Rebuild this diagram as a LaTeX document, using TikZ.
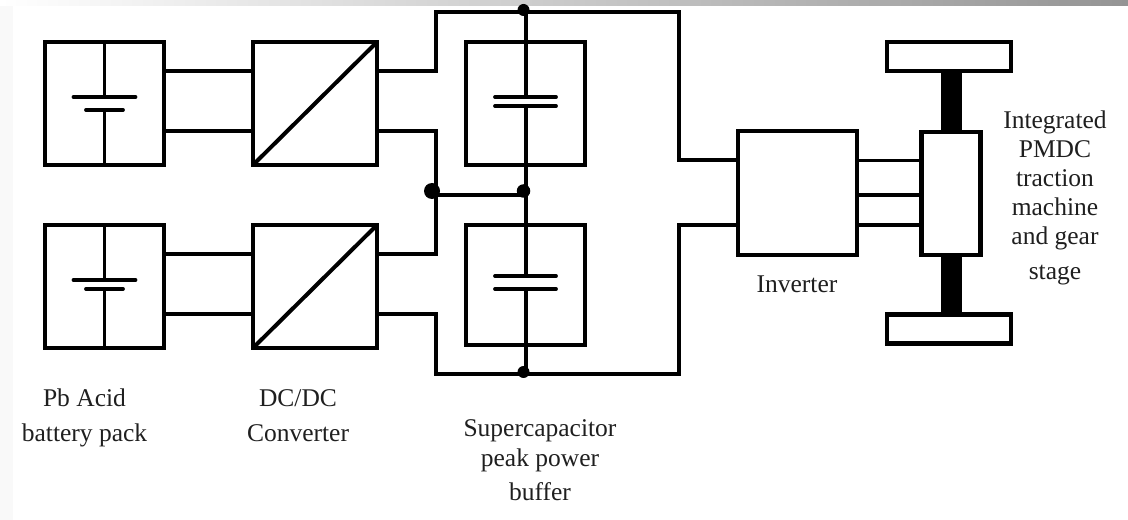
\documentclass[tikz,border=0pt]{standalone}
\usepackage{fontspec}
\setmainfont{Liberation Serif}
\definecolor{bandend}{gray}{0.58}
\definecolor{edgeband}{gray}{0.975}
\tikzset{
  boxed/.style={draw=black,line width=4.6bp,fill=white,inner sep=0pt,outer sep=0pt},
  wire/.style={draw=black,line width=4bp,line cap=butt,line join=miter},
  thinwire/.style={draw=black,line width=3.4bp},
  plate/.style={draw=black,line width=3.8bp,line cap=round},
  junction/.style={circle,fill=black,inner sep=0pt},
  shaft/.style={fill=black,inner sep=0pt},
  caption/.style={font=\fontsize{25.5bp}{30bp}\selectfont,align=center,text=black!88}
}
\newcommand{\bx}[5]{\node[boxed,minimum width=#4 bp,minimum height=#5 bp] (#1) at (#2,#3) {};}
\begin{document}
\begin{tikzpicture}[x=1bp,y=-1bp]
\useasboundingbox (0,0) rectangle (1128,520);
\shade[left color=white,right color=bandend] (0,0) rectangle (1128,6);
\fill[edgeband] (0,6) rectangle (13,520);
\fill[white] (13,6) rectangle (1128,520);
% main bus wires
\coordinate (topL) at (436,12.5);
\coordinate (topR) at (679,12.5);
\coordinate (topM) at (525.5,12.5);
\coordinate (botL) at (436,374);
\coordinate (botR) at (679,374);
\coordinate (botM) at (525.5,374);
\coordinate (midL) at (436,195);
\coordinate (midM) at (525.5,195);
% boxes
\bx{bat1}{104.5}{103.5}{119}{123}
\bx{bat2}{104.5}{286.5}{119}{123}
\bx{conv1}{315}{103.5}{124}{123}
\bx{conv2}{315}{286.5}{124}{123}
\bx{cap1}{525.5}{103.5}{119}{123}
\bx{cap2}{525.5}{285}{119}{120}
\bx{inv}{797.5}{193}{119}{124}
\bx{mach}{951}{193.5}{59}{123}
\bx{whl1}{949}{56.5}{124}{29}
\bx{whl2}{949}{329}{124}{29}
% converter diagonals
\draw[wire] (conv1.south west) -- (conv1.north east);
\draw[wire] (conv2.south west) -- (conv2.north east);
% battery symbols
\draw[wire,line width=3.2bp] (bat1.north) -- (104.5,97) (104.5,110) -- (bat1.south);
\draw[plate] (73.5,97) -- (135.5,97);
\draw[plate] (86,110) -- (123,110);
\draw[wire,line width=3.2bp] (bat2.north) -- (104.5,279) (104.5,289) -- (bat2.south);
\draw[plate] (73.5,280) -- (135.5,280);
\draw[plate] (86,289) -- (123,289);
% capacitor symbols and centre wire
\draw[wire] (topM) -- (525.5,97);
\draw[wire] (525.5,106) -- (525.5,276);
\draw[wire] (525.5,289) -- (botM);
\draw[plate] (495,97) -- (556,97);
\draw[plate] (495,106) -- (556,106);
\draw[plate] (495,276) -- (556,276);
\draw[plate] (495,289) -- (556,289);
% box-to-box wires
\draw[wire] (bat1.east |- 0,71.5) -- (conv1.west |- 0,71.5);
\draw[wire] (bat1.east |- 0,131) -- (conv1.west |- 0,131);
\draw[wire] (bat2.east |- 0,254.5) -- (conv2.west |- 0,254.5);
\draw[wire] (bat2.east |- 0,314) -- (conv2.west |- 0,314);
\draw[wire] (conv1.east |- 0,71.5) -| (topL) -- (topR) |- (inv.west |- 0,160.5);
\draw[wire] (conv1.east |- 0,131) -| (436,254.5) -- (conv2.east |- 0,254.5);
\draw[wire] (conv2.east |- 0,314) -| (botL) -- (botR) |- (inv.west |- 0,225.5);
\draw[wire] (midL) -- (midM);
\draw[thinwire] (inv.east |- 0,160.5) -- (mach.west |- 0,160.5);
\draw[thinwire] (inv.east |- 0,195) -- (mach.west |- 0,195);
\draw[thinwire] (inv.east |- 0,225) -- (mach.west |- 0,225);
% shafts
\node[shaft,minimum width=21bp,minimum height=59bp] (sh1) at (951,102) {};
\node[shaft,minimum width=21bp,minimum height=59bp] (sh2) at (951,285) {};
% junctions
\node[junction,minimum size=16bp] (j1) at (432,191) {};
\node[junction,minimum size=13.5bp] (j2) at (523.5,191) {};
\node[junction,minimum size=12bp] (j3) at (523.5,10) {};
\node[junction,minimum size=12bp] (j4) at (523.5,372) {};
% labels
\node[caption] (l1) at (84.5,418) {Pb Acid\\[5bp]battery pack};
\node[caption] (l2) at (298,416) {DC/DC\\[5bp]Converter};
\node[caption] (l3) at (540,460) {Supercapacitor\\peak power\\[4bp]buffer};
\node[caption] (l4) at (797,284) {Inverter};
\node[caption,font=\fontsize{25.5bp}{29bp}\selectfont] (l5) at (1055,198) {Integrated\\PMDC\\traction\\machine\\and gear\\[6bp]stage};
\end{tikzpicture}
\end{document}
